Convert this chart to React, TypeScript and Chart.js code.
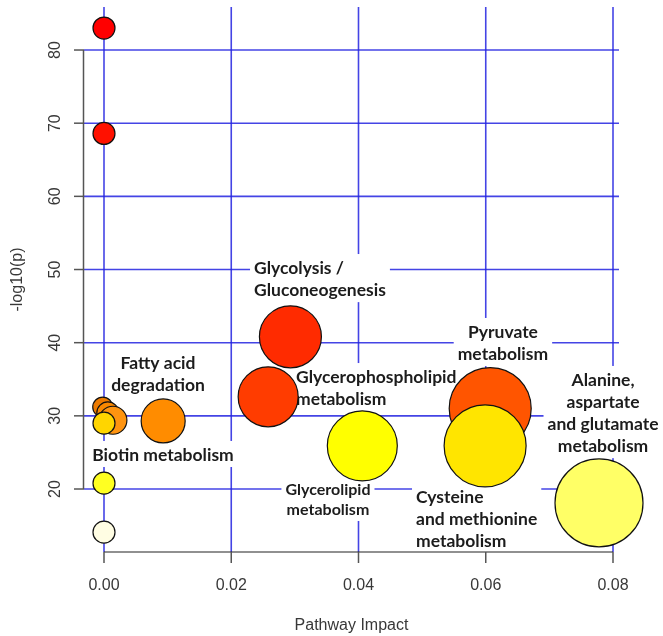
import { useEffect, useRef } from "react";
import { Chart, registerables } from "chart.js";

Chart.register(...registerables);

// ---- data ----
const pathwayNames = [
  "p1", "p2", "Glycolysis / Gluconeogenesis", "Glycerophospholipid metabolism",
  "Pyruvate metabolism", "p6", "p7", "p8", "Fatty acid degradation", "Biotin metabolism",
  "Glycerolipid metabolism", "Cysteine and methionine metabolism", "p13",
  "Alanine, aspartate and glutamate metabolism", "p15",
];
const impactValues = [0, 0, 0.0293, 0.0258, 0.0607, -0.0002, 0.0006, 0.0014, 0.0093, 0, 0.0406, 0.0599, 0, 0.0778, 0];
const logPValues = [83.0, 68.6, 40.8, 32.6, 31.0, 31.2, 30.4, 29.4, 29.3, 29.0, 25.9, 25.9, 20.8, 18.1, 14.1];
const bubbleRadii = [11, 11, 31, 30, 41, 10, 11, 14, 22, 11, 35, 41, 11, 44, 11];
const bubbleColors = [
  "#FF0000", "#FF1100", "#FF2B00", "#FF3C00", "#FF5500", "#EC7A00", "#F98800", "#FF9410",
  "#FF8C00", "#FFD500", "#FFFF00", "#FFE500", "#FFFF22", "#FFFF66", "#FFFDE3",
];

const xTicks = [0, 0.02, 0.04, 0.06, 0.08];
const xTickLabels = ["0.00", "0.02", "0.04", "0.06", "0.08"];
const yTicks = [20, 30, 40, 50, 60, 70, 80];
const yTickLabels = ["20", "30", "40", "50", "60", "70", "80"];

const xTitle = "Pathway Impact";
const yTitle = "-log10(p)";

// annotation text (anchor in data units)
const annotationLines = [
  ["Glycolysis /", "Gluconeogenesis"],
  ["Glycerophospholipid", "metabolism"],
  ["Glycerolipid", "metabolism"],
  ["Pyruvate", "metabolism"],
  ["Alanine,", "aspartate", "and glutamate", "metabolism"],
  ["Cysteine", "and methionine", "metabolism"],
  ["Fatty acid", "degradation"],
  ["Biotin metabolism"],
];
const annotationX = [0.02358, 0.03018, 0.0352, 0.0627, 0.07843, 0.04904, 0.00849, 0.00927];
const annotationY = [50.2, 35.3, 19.9, 41.46, 34.9, 18.9, 37.2, 24.65];
const annotationAlign = ["left", "left", "center", "center", "center", "left", "center", "center"];
const annotationSize = [17.5, 17.5, 16, 17.5, 17.5, 17.5, 17.5, 17.5];

const overlayPlugin = {
  id: "rstyle",
  beforeDatasetsDraw(chart: any) {
    const { ctx, chartArea: a, scales } = chart;
    const x = scales.x, y = scales.y;
    ctx.save();
    // grid
    ctx.strokeStyle = "rgba(35,35,225,0.85)";
    ctx.lineWidth = 1.6;
    xTicks.forEach((v) => {
      const px = x.getPixelForValue(v);
      ctx.beginPath();
      ctx.moveTo(px, a.top);
      ctx.lineTo(px, a.bottom);
      ctx.stroke();
    });
    yTicks.forEach((v) => {
      const py = y.getPixelForValue(v);
      ctx.beginPath();
      ctx.moveTo(a.left, py);
      ctx.lineTo(a.right, py);
      ctx.stroke();
    });
    // annotations with white boxes
    annotationLines.forEach((lines, i) => {
      const size = annotationSize[i];
      const lh = size * 1.26;
      ctx.font = `bold ${size}px Lato, "DejaVu Sans", sans-serif`;
      const widths = lines.map((t) => ctx.measureText(t).width);
      const maxW = Math.max(...widths);
      const ax = x.getPixelForValue(annotationX[i]);
      const ay = y.getPixelForValue(annotationY[i]);
      const align = annotationAlign[i];
      const left = align === "left" ? ax : ax - maxW / 2;
      const top = ay - lh / 2;
      ctx.fillStyle = "#ffffff";
      ctx.fillRect(left - 4, top - 3, maxW + 8, lh * lines.length + 4);
      ctx.fillStyle = "#1c1c1c";
      ctx.textBaseline = "middle";
      ctx.textAlign = align === "left" ? "left" : "center";
      lines.forEach((t, k) => {
        ctx.fillText(t, ax, ay + k * lh);
      });
    });
    ctx.restore();
  },
  afterDatasetsDraw(chart: any) {
    const { ctx, chartArea: a, scales } = chart;
    const x = scales.x, y = scales.y;
    ctx.save();
    // y axis
    ctx.strokeStyle = "#555";
    ctx.lineWidth = 1.5;
    const yTop = y.getPixelForValue(yTicks[yTicks.length - 1]);
    const yBot = y.getPixelForValue(yTicks[0]);
    ctx.beginPath();
    ctx.moveTo(a.left - 0.5, yTop);
    ctx.lineTo(a.left - 0.5, yBot);
    ctx.stroke();
    yTicks.forEach((v) => {
      const py = y.getPixelForValue(v);
      ctx.beginPath();
      ctx.moveTo(a.left - 10, py);
      ctx.lineTo(a.left, py);
      ctx.stroke();
    });
    // x axis
    ctx.strokeStyle = "#222";
    ctx.lineWidth = 1.2;
    const x0 = x.getPixelForValue(xTicks[0]);
    const x1 = x.getPixelForValue(xTicks[xTicks.length - 1]);
    ctx.beginPath();
    ctx.moveTo(x0, a.bottom);
    ctx.lineTo(x1, a.bottom);
    ctx.stroke();
    ctx.strokeStyle = "#555";
    ctx.lineWidth = 1.5;
    xTicks.forEach((v) => {
      const px = x.getPixelForValue(v);
      ctx.beginPath();
      ctx.moveTo(px, a.bottom);
      ctx.lineTo(px, a.bottom + 11);
      ctx.stroke();
    });
    // tick labels
    ctx.fillStyle = "#383838";
    ctx.font = `16px "Liberation Sans", Arial, sans-serif`;
    ctx.textAlign = "center";
    ctx.textBaseline = "middle";
    xTicks.forEach((v, i) => {
      ctx.fillText(xTickLabels[i], x.getPixelForValue(v), a.bottom + 34);
    });
    yTicks.forEach((v, i) => {
      ctx.save();
      ctx.translate(a.left - 28, y.getPixelForValue(v));
      ctx.rotate(-Math.PI / 2);
      ctx.fillText(yTickLabels[i], 0, 0);
      ctx.restore();
    });
    // titles
    ctx.fillText(xTitle, (a.left + a.right) / 2, a.bottom + 74);
    ctx.save();
    ctx.translate(18, (a.top + a.bottom) / 2);
    ctx.rotate(-Math.PI / 2);
    ctx.fillText(yTitle, 0, 0);
    ctx.restore();
    ctx.restore();
  },
};

export default function App() {
  const canvasRef = useRef<HTMLCanvasElement | null>(null);
  useEffect(() => {
    if (!canvasRef.current) return;
    const data = impactValues.map((v, i) => ({ x: v, y: logPValues[i], r: bubbleRadii[i] }));
    const chart = new Chart(canvasRef.current, {
      type: "bubble",
      data: {
        labels: pathwayNames,
        datasets: [
          {
            data,
            backgroundColor: bubbleColors,
            borderColor: "#111",
            borderWidth: 1.2,
            hoverRadius: 0,
            clip: false,
          } as any,
        ],
      },
      options: {
        responsive: false,
        animation: false,
        events: [],
        layout: { autoPadding: false, padding: { left: 84, right: 44, top: 7, bottom: 84 } },
        plugins: { legend: { display: false }, tooltip: { enabled: false } },
        scales: {
          x: { type: "linear", display: false, min: -0.003143, max: 0.080943 },
          y: { type: "linear", display: false, min: 11.39, max: 85.88 },
        },
      } as any,
      plugins: [overlayPlugin],
    });
    return () => chart.destroy();
  }, []);
  return (
    <div style={{ position: "fixed", left: 0, top: 0, width: 663, height: 636, background: "#fff" }}>
      <canvas ref={canvasRef} width={663} height={636} style={{ width: 663, height: 636, display: "block" }} />
    </div>
  );
}
